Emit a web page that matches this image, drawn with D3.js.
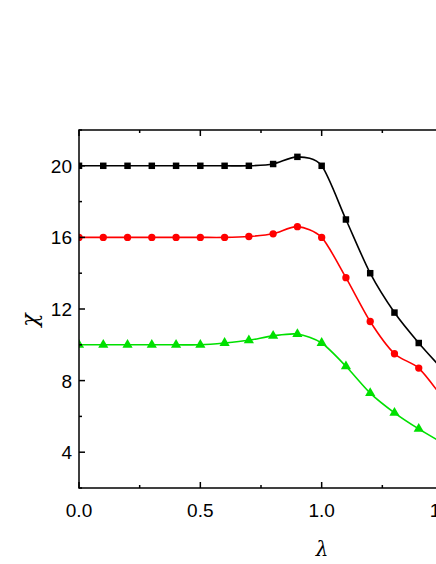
<!DOCTYPE html>
<html><head><meta charset="utf-8">
<script src="https://cdn.jsdelivr.net/npm/d3@7"></script>
<style>body{margin:0;background:#fff}text{font-family:Arial,"Liberation Sans",sans-serif}</style>
</head><body><div id="chart"></div>
<script>
const lambda = [0, 0.1, 0.2, 0.3, 0.4, 0.5, 0.6, 0.7, 0.8, 0.9, 1.0, 1.1, 1.2, 1.3, 1.4, 1.5];
const blackVals = [20, 20, 20, 20, 20, 20, 20, 20, 20.1, 20.5, 20.0, 17.0, 14.0, 11.8, 10.1, 8.6];
const redVals = [16, 16, 16, 16, 16, 16, 16, 16.05, 16.2, 16.6, 16.0, 13.75, 11.3, 9.5, 8.7, 7.0];
const greenVals = [10, 10, 10, 10, 10, 10, 10.1, 10.25, 10.5, 10.6, 10.1, 8.8, 7.3, 6.2, 5.3, 4.5];
const xTicks = [0, 0.5, 1.0, 1.5];
const yTicks = [4, 8, 12, 16, 20];

const W = 436, H = 564;
const m = {left: 79, top: 130, right: 443, bottom: 488};
const svg = d3.select("#chart").append("svg").attr("width", W).attr("height", H);
const x = d3.scaleLinear().domain([0, 1.5]).range([m.left, m.right]);
const y = d3.scaleLinear().domain([2, 22]).range([m.bottom, m.top]);

svg.append("clipPath").attr("id", "clip").append("rect")
  .attr("x", m.left).attr("y", m.top).attr("width", m.right - m.left).attr("height", m.bottom - m.top);

const series = [
  {vals: blackVals, color: "#000", shape: d3.symbolSquare},
  {vals: redVals, color: "#ff0000", shape: d3.symbolCircle},
  {vals: greenVals, color: "#00e000", shape: d3.symbolTriangle}
];
const line = d3.line().x(d => x(d[0])).y(d => y(d[1])).curve(d3.curveCardinal.tension(0.2));
const g = svg.append("g").attr("clip-path", "url(#clip)");
series.forEach(s => {
  const pts = lambda.map((l, i) => [l, s.vals[i]]);
  g.append("path").attr("d", line(pts)).attr("fill", "none").attr("stroke", s.color).attr("stroke-width", 1.6);
  g.selectAll(null).data(pts.slice(0, 15)).enter().append("path")
    .attr("d", d3.symbol().type(s.shape).size(s.shape === d3.symbolTriangle ? 45 : 42))
    .attr("transform", d => `translate(${x(d[0])},${y(d[1])})`)
    .attr("fill", s.color);
});

// frame
const ax = svg.append("g").attr("stroke", "#000").attr("stroke-width", 1.5);
ax.append("rect").attr("x", m.left).attr("y", m.top).attr("width", m.right - m.left).attr("height", m.bottom - m.top).attr("fill", "none");
d3.range(0, 1.51, 0.25).forEach(v => {
  const len = Math.abs(v * 2 - Math.round(v * 2)) < 1e-6 ? 6 : 3;
  ax.append("line").attr("x1", x(v)).attr("x2", x(v)).attr("y1", m.bottom).attr("y2", m.bottom - len);
  ax.append("line").attr("x1", x(v)).attr("x2", x(v)).attr("y1", m.top).attr("y2", m.top + len);
});
d3.range(2, 22.01, 2).forEach(v => {
  const len = v % 4 === 0 ? 6 : 3;
  ax.append("line").attr("x1", m.left).attr("x2", m.left + len).attr("y1", y(v)).attr("y2", y(v));
  ax.append("line").attr("x1", m.right).attr("x2", m.right - len).attr("y1", y(v)).attr("y2", y(v));
});

svg.selectAll(null).data(xTicks).enter().append("text")
  .attr("x", d => x(d)).attr("y", m.bottom + 29).attr("text-anchor", "middle")
  .attr("font-size", 19).text(d => d.toFixed(1));
svg.selectAll(null).data(yTicks).enter().append("text")
  .attr("x", m.left - 7).attr("y", d => y(d) + 7).attr("text-anchor", "end")
  .attr("font-size", 19).text(d => d);

svg.append("text").attr("x", 322).attr("y", 556).attr("text-anchor", "middle")
  .attr("font-size", 20).attr("font-style", "italic").style("font-family", "'DejaVu Serif',serif").text("λ");
svg.append("text").attr("transform", "translate(37,320) rotate(-90)").attr("text-anchor", "middle")
  .attr("font-size", 22).attr("font-style", "italic").style("font-family", "'DejaVu Serif',serif").text("χ");
</script></body></html>
